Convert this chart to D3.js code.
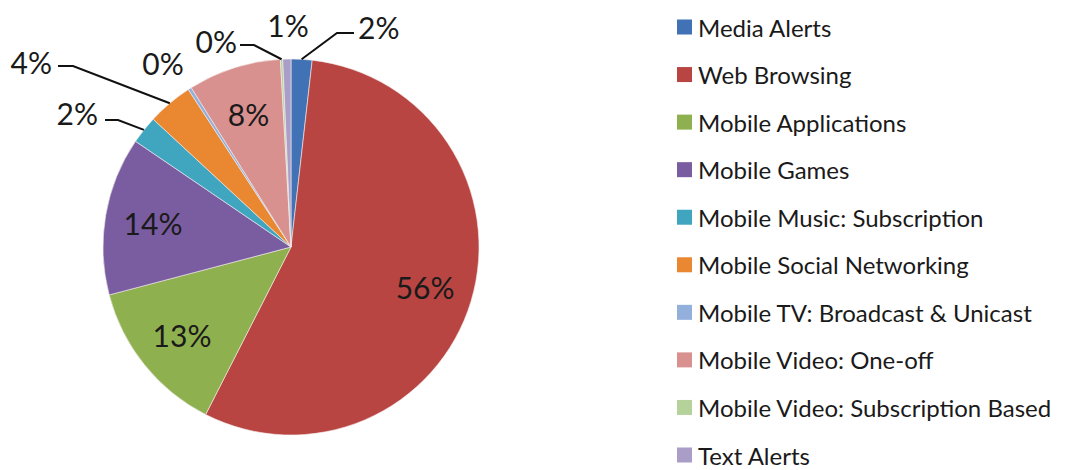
<!DOCTYPE html>
<html>
<head>
<meta charset="utf-8">
<script src="https://cdn.jsdelivr.net/npm/d3@7"></script>
<style>
  html, body { margin: 0; padding: 0; background: #fff; }
  svg { display: block; }
  text { font-family: Lato, "Open Sans", "DejaVu Sans", sans-serif; fill: #1a1a1a; }
</style>
</head>
<body>
<svg id="chart" width="1076" height="470"></svg>
<script>
// ---- data ----
const categories = [
  "Media Alerts",
  "Web Browsing",
  "Mobile Applications",
  "Mobile Games",
  "Mobile Music: Subscription",
  "Mobile Social Networking",
  "Mobile TV: Broadcast & Unicast",
  "Mobile Video: One-off",
  "Mobile Video: Subscription Based",
  "Text Alerts"
];
const values = [1.8, 55.7, 13.4, 13.6, 2.4, 3.9, 0.3, 8.0, 0.2, 0.7];
const colors = [
  "#4172b6", "#b94542", "#8fb04e", "#7a5ca1", "#40a6c0",
  "#ea8832", "#93afdb", "#d9918f", "#b6d29b", "#aa9ec9"
];

// ---- layout ----
const cx = 291, cy = 247, R = 188;
const insideR = 140;
// label placement for labels drawn outside the pie (elbow, line end, text anchor)
const outside = {
  "Media Alerts":                     { elbow: [337, 33], end: [354, 33], text: [358, 27], anchor: "start" },
  "Mobile Video: Subscription Based": { elbow: [254, 45], end: [240, 45], text: [237, 41], anchor: "end" },
  "Mobile Social Networking":         { elbow: [73, 66],  end: [58, 66],  text: [52, 62],  anchor: "end" },
  "Mobile Music: Subscription":       { elbow: [118, 120], end: [105, 120], text: [98, 113], anchor: "end" },
  "Text Alerts":                      { text: [288, 25], anchor: "middle" },
  "Mobile TV: Broadcast & Unicast":   { text: [163, 63], anchor: "middle" }
};

const svg = d3.select("#chart");
const color = d3.scaleOrdinal().domain(categories).range(colors);

const pie = d3.pie().sort(null).value(d => d.value).startAngle(0).endAngle(2 * Math.PI);
const data = categories.map((c, i) => ({ name: c, value: values[i] }));
const arcs = pie(data);

const arc = d3.arc().innerRadius(0).outerRadius(R);
const labelArc = d3.arc().innerRadius(insideR).outerRadius(insideR);
const edgeArc = d3.arc().innerRadius(R).outerRadius(R);

const g = svg.append("g").attr("transform", `translate(${cx},${cy})`);

g.selectAll("path.slice")
  .data(arcs)
  .join("path")
  .attr("class", "slice")
  .attr("d", arc)
  .attr("fill", d => color(d.data.name))
  .attr("stroke", "#f4eeee")
  .attr("stroke-width", 0.6);

const fmt = v => Math.round(v) + "%";

// inside labels
g.selectAll("text.inside")
  .data(arcs.filter(d => !outside[d.data.name]))
  .join("text")
  .attr("class", "inside")
  .attr("transform", d => `translate(${labelArc.centroid(d)})`)
  .attr("text-anchor", "middle")
  .attr("dominant-baseline", "central")
  .style("font-size", "30px")
  .text(d => fmt(d.data.value));

// outside labels with leader lines
const outs = arcs.filter(d => outside[d.data.name]);
const lineGen = d3.line();
svg.selectAll("path.leader")
  .data(outs.filter(d => outside[d.data.name].elbow))
  .join("path")
  .attr("class", "leader")
  .attr("fill", "none")
  .attr("stroke", "#111")
  .attr("stroke-width", 2)
  .attr("d", d => {
    const p = edgeArc.centroid(d);
    const o = outside[d.data.name];
    return lineGen([[cx + p[0], cy + p[1]], o.elbow, o.end]);
  });

svg.selectAll("text.outside")
  .data(outs)
  .join("text")
  .attr("class", "outside")
  .attr("x", d => outside[d.data.name].text[0])
  .attr("y", d => outside[d.data.name].text[1])
  .attr("text-anchor", d => outside[d.data.name].anchor)
  .attr("dominant-baseline", "central")
  .style("font-size", "30px")
  .text(d => fmt(d.data.value));

// legend
const legendY = d3.scalePoint().domain(categories).range([27, 455]);
const lg = svg.append("g").selectAll("g")
  .data(categories)
  .join("g")
  .attr("transform", d => `translate(677,${legendY(d)})`);
lg.append("rect")
  .attr("x", 0).attr("y", -7.5)
  .attr("width", 15).attr("height", 15)
  .attr("fill", d => color(d));
lg.append("text")
  .attr("x", 21).attr("y", 0)
  .attr("dominant-baseline", "central")
  .style("font-size", "24px")
  .text(d => d);
</script>
</body>
</html>
